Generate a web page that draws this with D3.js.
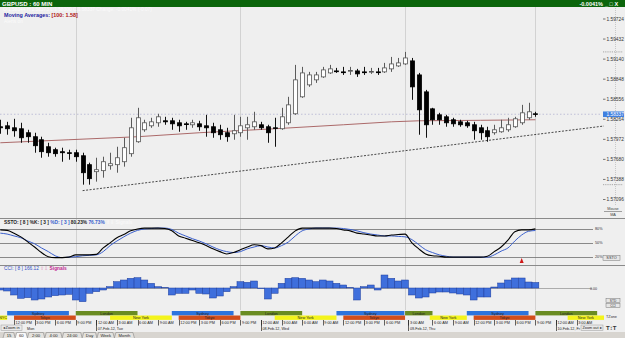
<!DOCTYPE html>
<html lang="en">
<head>
<meta charset="UTF-8">
<title>GBPUSD : 60 MIN</title>
<style>
  html, body { margin: 0; padding: 0; background: #efefef; }
  svg { display: block; font-family: "Liberation Sans", Arial, sans-serif; }
</style>
</head>
<body>
<div id="chart"></div>
<script src="https://cdn.jsdelivr.net/npm/d3@7/dist/d3.min.js"></script>
<script>
// hourly bars, index 0..78
const opens = [1.58155,1.58169,1.58140,1.58126,1.58068,1.58010,1.57966,1.57864,1.57821,1.57792,
  1.57777,1.57777,1.57733,1.57603,1.57501,1.57516,1.57588,1.57603,1.57646,1.57763,
  1.57937,1.58111,1.58169,1.58213,1.58242,1.58242,1.58213,1.58198,1.58184,1.58198,
  1.58169,1.58155,1.58111,1.58068,1.58053,1.58068,1.58140,1.58155,1.58184,1.58155,
  1.58140,1.58126,1.58213,1.58344,1.58591,1.58765,1.58838,1.58881,1.58939,1.58968,
  1.58954,1.58968,1.58968,1.58954,1.58954,1.58954,1.58954,1.58998,1.59041,1.59070,
  1.59114,1.58910,1.58663,1.58416,1.58329,1.58300,1.58257,1.58227,1.58213,1.58184,
  1.58140,1.58097,1.58068,1.58082,1.58111,1.58155,1.58213,1.58286,1.58344];
const highs = [1.58257,1.58227,1.58271,1.58213,1.58111,1.58068,1.58010,1.57922,1.57850,1.57850,
  1.57821,1.57821,1.57777,1.57632,1.57704,1.57719,1.57777,1.57864,1.57995,1.58286,
  1.58431,1.58257,1.58286,1.58344,1.58300,1.58286,1.58257,1.58227,1.58257,1.58242,
  1.58329,1.58213,1.58184,1.58140,1.58329,1.58300,1.58300,1.58373,1.58227,1.58184,
  1.58286,1.58431,1.58591,1.59056,1.59027,1.58954,1.58954,1.59027,1.59056,1.59012,
  1.59027,1.59027,1.58998,1.59027,1.59012,1.59012,1.59085,1.59172,1.59157,1.59245,
  1.59157,1.58939,1.58692,1.58431,1.58358,1.58329,1.58286,1.58257,1.58242,1.58227,
  1.58184,1.58155,1.58184,1.58257,1.58286,1.58300,1.58474,1.58504,1.58373];
const lows = [1.58053,1.58039,1.58010,1.57922,1.57922,1.57777,1.57704,1.57719,1.57719,1.57646,
  1.57675,1.57646,1.57312,1.57312,1.57356,1.57414,1.57530,1.57486,1.57574,1.57719,
  1.57922,1.58082,1.58140,1.58155,1.58184,1.58111,1.58082,1.58111,1.58140,1.58097,
  1.58010,1.57995,1.57966,1.57937,1.57966,1.58010,1.57966,1.58111,1.58111,1.57922,
  1.57864,1.58111,1.58184,1.58329,1.58576,1.58736,1.58794,1.58867,1.58925,1.58939,
  1.58910,1.58910,1.58881,1.58910,1.58925,1.58910,1.58939,1.58954,1.59027,1.59056,
  1.58547,1.58039,1.57995,1.58184,1.58184,1.58155,1.58155,1.58155,1.58140,1.57966,
  1.57966,1.57937,1.58039,1.58068,1.58082,1.58140,1.58184,1.58257,1.58300];
const closes = [1.58140,1.58126,1.58097,1.57995,1.58010,1.57879,1.57792,1.57777,1.57763,1.57777,
  1.57770,1.57719,1.57486,1.57399,1.57530,1.57646,1.57617,1.57704,1.57850,1.58140,
  1.58286,1.58213,1.58227,1.58300,1.58227,1.58198,1.58169,1.58191,1.58213,1.58155,
  1.58140,1.58068,1.58039,1.58010,1.58097,1.58169,1.58184,1.58227,1.58140,1.58068,
  1.58133,1.58300,1.58474,1.58838,1.58939,1.58910,1.58910,1.58983,1.58998,1.58961,
  1.58947,1.58975,1.58925,1.58947,1.58961,1.58947,1.59012,1.59070,1.59085,1.59157,
  1.58736,1.58402,1.58184,1.58257,1.58257,1.58213,1.58198,1.58184,1.58169,1.58097,
  1.58068,1.58010,1.58111,1.58140,1.58184,1.58271,1.58358,1.58373,1.58337];

// moving average (100) read at a few bars
const maIdx = [0, 10, 20, 29, 40, 50, 57, 61, 70, 78];
const maVals = [1.57922, 1.57966, 1.58010, 1.58068, 1.58126, 1.58184, 1.58227, 1.58242, 1.58249, 1.58257];

// trend line anchors
const trendIdx = [12, 88];
const trendVals = [1.57225, 1.58166];

const priceTicks = [1.59724, 1.59432, 1.59140, 1.58848, 1.58556, 1.58264, 1.57972, 1.57680, 1.57388, 1.57096];

// slow stochastic
const stochK = [78,77,71,63,52,41,29,20,18,18, 19,24,24,24,25,39,50,61,68,76,
  80,82,82,82,81,76,65,60,55,50, 44,37,31,26,29,35,41,46,44,37,
  39,50,63,76,82,82,82,82,82,81, 78,76,71,69,67,65,65,67,68,69,
  50,37,26,22,21,19,19,19,19,19, 19,21,31,41,56,74,78,78,80.23];
const stochD = [71,69,65,61,54,48,39,31,22,18, 19,20,22,23,24,31,44,54,63,71,
  77,80,81,82,82,79,71,65,59,54, 48,41,35,31,29,31,37,41,44,41,
  39,44,52,65,76,80,82,82,82,82, 81,79,76,72,69,67,65,65,64,63,
  57,46,35,29,24,21,19,19,19,19, 19,19,24,32,39,54,67,75,76.73];
const stochLevels = [80, 50, 20];
const signalIdx = [76];

// CCI (8)
const cciVals = [-60,-90,-210,-310,-290,-360,-330,-270,-230,-210,
  -190,-360,-410,-160,-110,-60,40,190,240,290,
  310,240,140,40,10,-210,-160,-160,-60,-160,
  -180,-300,-240,-110,40,190,170,210,-20,-330,
  -160,140,290,310,290,240,190,240,210,140,
  90,10,-360,40,90,-60,390,290,210,240,
  -210,-300,-270,-150,-120,-120,-150,-180,-210,-360,
  -270,-270,30,150,240,300,300,180,166.12];

const dayLineIdx = [11, 35, 59, 78];

// trading sessions [name, start bar, end bar]
const sessionsTop = [["Sydney",1,10],["London",11,20],["Sydney",25,34],["London",35,44],
  ["Sydney",49,58.9],["London",59,63],["Sydney",68,77],["London",78,87]];
const sessionsBottom = [["NYC",-1,1],["Tokyo",2,11],["New York",16,25],["Tokyo",26,35],
  ["New York",40,49],["Tokyo",50,59],["New York",62.6,68],["Tokyo",69,78],["New York",82.7,88]];

const timeTickIdx = [2,5,8,11,14,17,20,23,26,29,32,35,38,41,44,47,50,53,56,59.5,63,66,69,72,75,78,81,84];
const timeTickLabels = ["12:00 PM","3:00 PM","6:00 PM","9:00 PM","12:00 AM","3:00 AM","6:00 AM","9:00 AM",
  "12:00 PM","3:00 PM","6:00 PM","9:00 PM","12:00 AM","3:00 AM","6:00 AM","9:00 AM","12:00 PM","3:00 PM",
  "6:00 PM","3:00 AM","6:00 AM","9:00 AM","12:00 PM","3:00 PM","6:00 PM","9:00 PM","12:00 AM","3:00 AM"];
const dateTickIdx = [3.7, 14, 38, 59.5, 81];
const dateTickLabels = ["Mon", "07-Feb-12, Tue", "08-Feb-12, Wed", "09-Feb-12, Thu", "10-Feb-12, Fr"];

const tabs = ["15", "60", "2:00", "4:00", "24:00", "Day", "Week", "Month"];

const W = 625, H = 338;
const svg = d3.select('#chart').append('svg').attr('width', W).attr('height', H);

const x = d3.scaleLinear().domain([0, 78]).range([0.3, 535.4]);
const y = d3.scaleLinear().domain([1.57096, 1.59724]).range([199.5, 19]);
const ys = d3.scaleLinear().domain([20, 80]).range([256.7, 229]);
const yc = d3.scaleLinear().domain([-300, 300]).range([298, 278]);
const step = x(1) - x(0);
const px = i => Math.round(x(i));

svg.append('rect').attr('width', W).attr('height', H).attr('fill', '#efefef');

// title bar
svg.append('rect').attr('width', W).attr('height', 7).attr('fill', '#0b650b');
svg.append('text').attr('x', 2).attr('y', 5.6).attr('font-size', 6).attr('font-weight', 'bold')
  .attr('fill', '#fff').text('GBPUSD : 60 MIN');
svg.append('text').attr('x', 603).attr('y', 5.6).attr('font-size', 5.5).attr('font-weight', 'bold')
  .attr('text-anchor', 'end').attr('fill', '#fff').text('-0.0041%');
svg.append('text').attr('x', 605).attr('y', 5.6).attr('font-size', 5.5).attr('font-weight', 'bold')
  .attr('fill', '#fff').text('_ \u25a1 X');

// vertical day lines
svg.append('g').selectAll('line').data(dayLineIdx).join('line')
  .attr('x1', d => px(d) + 0.5).attr('x2', d => px(d) + 0.5)
  .attr('y1', 7).attr('y2', 310)
  .attr('stroke', '#d2d2d2').attr('stroke-width', 1);

// legend lines
const last = opens.length - 1;
svg.append('text').attr('x', 3).attr('y', 11).attr('font-size', 4.8).attr('fill', '#fbfbfb')
  .text(`O:${opens[last].toFixed(5)}  H:${highs[last].toFixed(5)}  L:${lows[last].toFixed(5)}  C:${closes[last].toFixed(5)}   Change: -0.0041% (-0.07)`);
const ma = svg.append('text').attr('x', 4).attr('y', 16.8).attr('font-size', 5.4).attr('font-weight', 'bold');
ma.append('tspan').attr('fill', '#1c1ca0').text('Moving Averages: ');
ma.append('tspan').attr('fill', '#b01515').text('[100: 1.58]');
svg.append('text').attr('x', 4).attr('y', 22.5).attr('font-size', 4.8).attr('fill', '#fbfbfb').text('Alerts on');

// current price dotted line
svg.append('line').attr('x1', 0).attr('x2', 602)
  .attr('y1', y(closes[last])).attr('y2', y(closes[last]))
  .attr('stroke', '#b4b4d2').attr('stroke-width', 0.8).attr('stroke-dasharray', '1.5,2');

// trend line
svg.append('line')
  .attr('x1', x(trendIdx[0])).attr('y1', y(trendVals[0]))
  .attr('x2', x(trendIdx[1])).attr('y2', y(trendVals[1]))
  .attr('stroke', '#333').attr('stroke-width', 0.9).attr('stroke-dasharray', '2,1.5');

// moving average
svg.append('path')
  .datum(maIdx.map((d, i) => [d, maVals[i]]))
  .attr('d', d3.line().x(d => x(d[0])).y(d => y(d[1])))
  .attr('fill', 'none').attr('stroke', '#a45a5a').attr('stroke-width', 0.9);

// candles
const candles = opens.map((o, i) => ({ i, o, h: highs[i], l: lows[i], c: closes[i] }));
const gW = svg.append('g');
gW.selectAll('line').data(candles).join('line')
  .attr('x1', d => px(d.i) + 0.5).attr('x2', d => px(d.i) + 0.5)
  .attr('y1', d => y(d.h)).attr('y2', d => y(d.l))
  .attr('stroke', d => d.c >= d.o ? '#5a5a5a' : '#111').attr('stroke-width', 1);
const gB = svg.append('g');
gB.selectAll('rect').data(candles).join('rect')
  .attr('x', d => px(d.i) - 1.5).attr('width', 4)
  .attr('y', d => y(Math.max(d.o, d.c)))
  .attr('height', d => Math.max(0.8, Math.abs(y(d.o) - y(d.c))))
  .attr('fill', d => d.c >= d.o ? '#fff' : '#000')
  .attr('stroke', d => d.c >= d.o ? '#555' : '#000').attr('stroke-width', 0.8);

// right price axis
svg.append('line').attr('x1', 615.5).attr('x2', 615.5).attr('y1', 8).attr('y2', 205)
  .attr('stroke', '#c8c8c8').attr('stroke-dasharray', '1,1');
const gA = svg.append('g');
gA.selectAll('line').data(priceTicks).join('line')
  .attr('x1', 603).attr('x2', 605.5).attr('y1', d => y(d)).attr('y2', d => y(d))
  .attr('stroke', '#444').attr('stroke-width', 0.7);
gA.selectAll('text').data(priceTicks).join('text')
  .attr('x', 606.5).attr('y', d => y(d) + 1.7).attr('font-size', 4.8).attr('fill', '#333')
  .text(d => d.toFixed(5));
// high / low of view
[d3.max(highs), d3.min(lows)].forEach(v => {
  svg.append('line').attr('x1', 603).attr('x2', 623).attr('y1', y(v)).attr('y2', y(v))
    .attr('stroke', '#888').attr('stroke-width', 0.7).attr('stroke-dasharray', '1.2,1');
});
svg.append('rect').attr('x', 603).attr('y', y(closes[last]) - 2.8).attr('width', 21).attr('height', 5.6)
  .attr('fill', '#3f80e0');
svg.append('text').attr('x', 606.5).attr('y', y(closes[last]) + 1.7).attr('font-size', 4.8)
  .attr('fill', '#fff').text(closes[last].toFixed(5));
svg.append('text').attr('x', 613).attr('y', 210).attr('font-size', 3.8).attr('text-anchor', 'middle')
  .attr('fill', '#444').text('Mouse');
svg.append('line').attr('x1', 604).attr('x2', 622).attr('y1', 211.5).attr('y2', 211.5).attr('stroke', '#666').attr('stroke-width', 0.6);
svg.append('text').attr('x', 613).attr('y', 216).attr('font-size', 3.8).attr('text-anchor', 'middle')
  .attr('fill', '#444').text('MA');

// panel separators
[218.5, 265.5].forEach(v => {
  svg.append('line').attr('x1', 0).attr('x2', 625).attr('y1', v).attr('y2', v)
    .attr('stroke', '#8a8a8a').attr('stroke-width', 1);
});

// stochastic panel
const st = svg.append('text').attr('x', 4).attr('y', 224.3).attr('font-size', 4.8).attr('font-weight', 'bold');
st.append('tspan').attr('fill', '#222').text('SSTO: [ 8 ] %K: [ 3 ] ');
st.append('tspan').attr('fill', '#3a5fcd').text('%D: [ 3 ] ');
st.append('tspan').attr('fill', '#222').text(stochK[last].toFixed(2) + '% ');
st.append('tspan').attr('fill', '#3a5fcd').text(stochD[last].toFixed(2) + '%');
st.append('tspan').attr('fill', '#f8f8f8').text('  \u21e7\u21e9 Signals');

const gL = svg.append('g');
gL.selectAll('line').data(stochLevels).join('line')
  .attr('x1', 0).attr('x2', 593).attr('y1', d => Math.round(ys(d)) + 0.5).attr('y2', d => Math.round(ys(d)) + 0.5)
  .attr('stroke', '#6e6e6e').attr('stroke-width', 0.8);
gL.selectAll('text').data(stochLevels).join('text')
  .attr('x', 595).attr('y', d => ys(d) + 1.4).attr('font-size', 3.8).attr('fill', '#333')
  .text(d => d + '%');

const sLine = d3.line().x((d, i) => x(i)).y(d => ys(d)).curve(d3.curveMonotoneX);
svg.append('path').datum(stochD).attr('d', sLine)
  .attr('fill', 'none').attr('stroke', '#3a5fcd').attr('stroke-width', 1);
svg.append('path').datum(stochK).attr('d', sLine)
  .attr('fill', 'none').attr('stroke', '#000').attr('stroke-width', 1.1);

svg.append('g').selectAll('path').data(signalIdx).join('path')
  .attr('d', d => `M${x(d)},258 L${x(d) + 2},263 L${x(d) - 2},263 Z`)
  .attr('fill', '#d01818');

svg.append('rect').attr('x', 603).attr('y', 255.5).attr('width', 17).attr('height', 5)
  .attr('fill', '#e6e6e6').attr('stroke', '#777').attr('stroke-width', 0.5);
svg.append('text').attr('x', 611.5).attr('y', 259.3).attr('font-size', 3.8).attr('text-anchor', 'middle')
  .attr('fill', '#333').text('SSTO');

// CCI panel
const ct = svg.append('text').attr('x', 4).attr('y', 270.3).attr('font-size', 4.8);
ct.append('tspan').attr('fill', '#3350c8').text('CCI: [ 8 ] ' + cciVals[last].toFixed(2) + ' ');
ct.append('tspan').attr('fill', '#e090c0').text('\u21e7\u21e9 ');
ct.append('tspan').attr('fill', '#c02890').attr('font-weight', 'bold').text('Signals');

svg.append('line').attr('x1', 0).attr('x2', 592).attr('y1', yc(0) + 0.5).attr('y2', yc(0) + 0.5)
  .attr('stroke', '#9a9a9a').attr('stroke-width', 0.8);
svg.append('text').attr('x', 590).attr('y', yc(0) + 1.8).attr('font-size', 3.6).attr('fill', '#333').text('0.00');

svg.append('g').selectAll('rect').data(cciVals).join('rect')
  .attr('x', (d, i) => x(i) - step / 2).attr('width', step)
  .attr('y', d => Math.min(yc(d), yc(0)))
  .attr('height', d => Math.abs(yc(d) - yc(0)))
  .attr('fill', '#3f6fdc').attr('stroke', '#1d3c9c').attr('stroke-width', 0.5);

[[300.5, 'STD'], [305.5, 'CCI']].forEach(([v, t]) => {
  svg.append('rect').attr('x', 606).attr('y', v - 2).attr('width', 14).attr('height', 4)
    .attr('fill', '#e6e6e6').attr('stroke', '#777').attr('stroke-width', 0.5);
  svg.append('text').attr('x', 613).attr('y', v + 1.2).attr('font-size', 3.2).attr('text-anchor', 'middle')
    .attr('fill', '#333').text(t);
});

// session bars
const sessionColor = { Sydney: '#2c74de', London: '#6a8c22', Tokyo: '#d24e1c', 'New York': '#f4f41c', NYC: '#f4f41c' };
const drawSessions = (rows, top) => {
  const g = svg.append('g');
  g.selectAll('rect').data(rows).join('rect')
    .attr('x', d => x(d[1])).attr('width', d => x(d[2]) - x(d[1]))
    .attr('y', top).attr('height', 4.4)
    .attr('fill', d => sessionColor[d[0]]);
  g.selectAll('text').data(rows).join('text')
    .attr('x', d => Math.max(3, (x(d[1]) + x(d[2])) / 2)).attr('y', top + 3.6)
    .attr('text-anchor', 'middle').attr('font-size', 3.8).attr('fill', '#222')
    .text(d => d[0]);
};
drawSessions(sessionsTop, 311);
drawSessions(sessionsBottom, 315.5);

// time axis
const gT = svg.append('g');
gT.selectAll('line').data(timeTickIdx).join('line')
  .attr('x1', d => px(d) + 0.5).attr('x2', d => px(d) + 0.5).attr('y1', 320).attr('y2', 325.5)
  .attr('stroke', '#222').attr('stroke-width', 0.7);
gT.selectAll('text').data(timeTickIdx).join('text')
  .attr('x', d => x(d) + 1.6).attr('y', 324.4).attr('font-size', 3.8).attr('fill', '#222')
  .text((d, i) => timeTickLabels[i]);

const gD = svg.append('g');
gD.selectAll('line').data(dateTickIdx.slice(1)).join('line')
  .attr('x1', d => px(d) + 0.5).attr('x2', d => px(d) + 0.5).attr('y1', 320).attr('y2', 331)
  .attr('stroke', '#222').attr('stroke-width', 0.7);
gD.selectAll('text').data(dateTickIdx).join('text')
  .attr('x', d => x(d) + 1.4).attr('y', 330).attr('font-size', 3.7).attr('fill', '#222')
  .text((d, i) => dateTickLabels[i]);

// zoom buttons
svg.append('rect').attr('x', 1).attr('y', 325).attr('width', 21).attr('height', 5.5)
  .attr('fill', '#e9e9e9').attr('stroke', '#9a9a9a').attr('stroke-width', 0.5);
svg.append('text').attr('x', 2.5).attr('y', 329.2).attr('font-size', 3.9).attr('fill', '#222').text('\u25c2 Zoom in');
svg.append('rect').attr('x', 581).attr('y', 325).attr('width', 22).attr('height', 5.5)
  .attr('fill', '#e9e9e9').attr('stroke', '#9a9a9a').attr('stroke-width', 0.5);
svg.append('text').attr('x', 582.5).attr('y', 329.2).attr('font-size', 3.8).attr('fill', '#222').text('Zoom out \u25b8');
svg.append('text').attr('x', 606).attr('y', 318).attr('font-size', 3.8).attr('fill', '#333').text('TZone');
svg.append('text').attr('x', 606).attr('y', 329.5).attr('font-size', 6).attr('font-weight', 'bold')
  .attr('fill', '#333').text('T\u2195T');

// period tabs
svg.append('rect').attr('x', 0).attr('y', 332).attr('width', W).attr('height', 6).attr('fill', '#d8d5d0');
let tx = 3;
tabs.forEach((t, i) => {
  const w = 7 + t.length * 2.6;
  svg.append('path')
    .attr('d', `M${tx},338 L${tx + 1.5},332.5 L${tx + w - 1.5},332.5 L${tx + w},338`)
    .attr('fill', i === 1 ? '#fafafa' : '#e4e2de').attr('stroke', '#777').attr('stroke-width', 0.5);
  svg.append('text').attr('x', tx + w / 2).attr('y', 337.2).attr('text-anchor', 'middle')
    .attr('font-size', 4.2).attr('fill', '#222').text(t);
  tx += w;
});
</script>
</body>
</html>
